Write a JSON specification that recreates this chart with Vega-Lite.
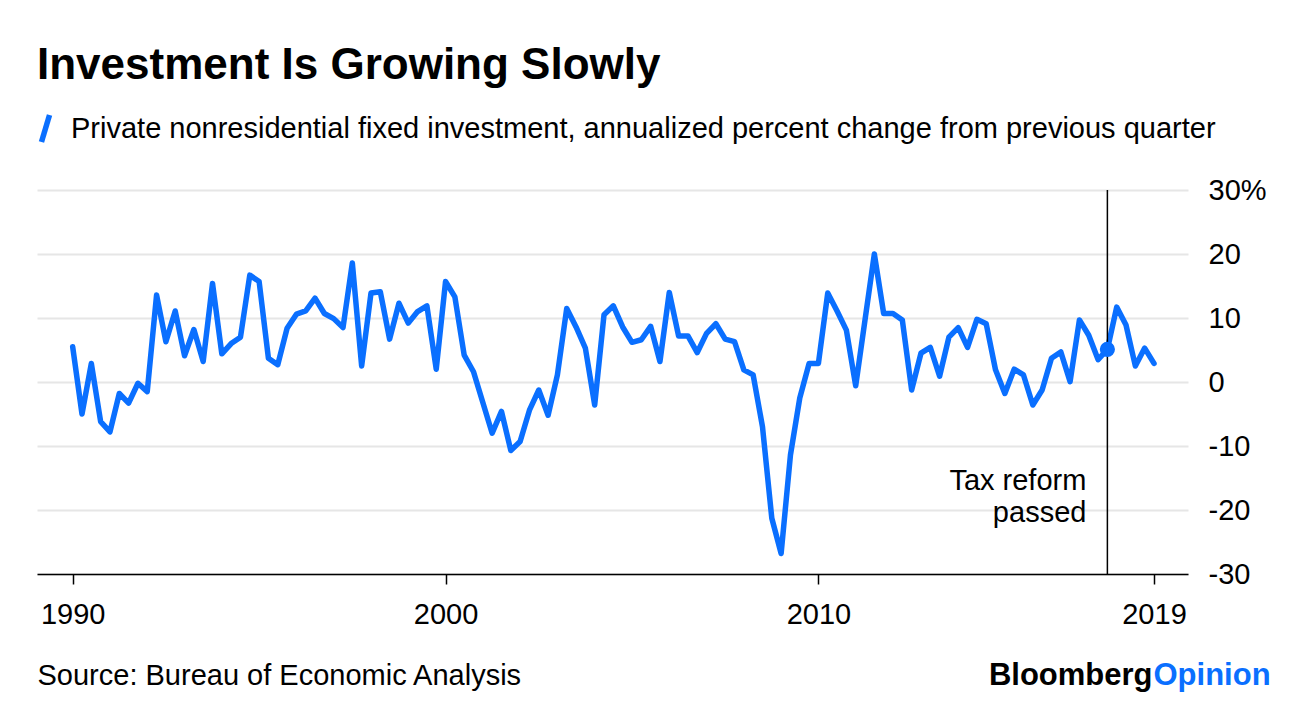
{
  "$schema": "https://vega.github.io/schema/vega-lite/v6.json",
  "width": 1151,
  "height": 384,
  "autosize": "none",
  "padding": {"left": 37, "top": 190, "right": 108, "bottom": 132},
  "background": "white",
  "config": {"view": {"stroke": null}, "font": "Liberation Sans"},
  "title": {
    "text": "Investment Is Growing Slowly",
    "anchor": "start",
    "frame": "group",
    "fontSize": 44,
    "font": "Liberation Sans",
    "fontWeight": "bold",
    "color": "#000000",
    "offset": 24
  },
  "datasets": {
    "main": [
      {"t": 1990.0, "v": 5.5}, {"t": 1990.25, "v": -5.0}, {"t": 1990.5, "v": 2.9}, {"t": 1990.75, "v": -6.2},
      {"t": 1991.0, "v": -7.8}, {"t": 1991.25, "v": -1.8}, {"t": 1991.5, "v": -3.3}, {"t": 1991.75, "v": -0.2},
      {"t": 1992.0, "v": -1.5}, {"t": 1992.25, "v": 13.6}, {"t": 1992.5, "v": 6.3}, {"t": 1992.75, "v": 11.1},
      {"t": 1993.0, "v": 4.1}, {"t": 1993.25, "v": 8.2}, {"t": 1993.5, "v": 3.2}, {"t": 1993.75, "v": 15.4},
      {"t": 1994.0, "v": 4.4}, {"t": 1994.25, "v": 6.0}, {"t": 1994.5, "v": 7.0}, {"t": 1994.75, "v": 16.7},
      {"t": 1995.0, "v": 15.7}, {"t": 1995.25, "v": 3.7}, {"t": 1995.5, "v": 2.7}, {"t": 1995.75, "v": 8.4},
      {"t": 1996.0, "v": 10.6}, {"t": 1996.25, "v": 11.1}, {"t": 1996.5, "v": 13.1}, {"t": 1996.75, "v": 10.7},
      {"t": 1997.0, "v": 9.9}, {"t": 1997.25, "v": 8.5}, {"t": 1997.5, "v": 18.6}, {"t": 1997.75, "v": 2.5},
      {"t": 1998.0, "v": 13.9}, {"t": 1998.25, "v": 14.1}, {"t": 1998.5, "v": 6.7}, {"t": 1998.75, "v": 12.3},
      {"t": 1999.0, "v": 9.2}, {"t": 1999.25, "v": 11.0}, {"t": 1999.5, "v": 11.9}, {"t": 1999.75, "v": 2.0},
      {"t": 2000.0, "v": 15.7}, {"t": 2000.25, "v": 13.3}, {"t": 2000.5, "v": 4.2}, {"t": 2000.75, "v": 1.6},
      {"t": 2001.0, "v": -3.2}, {"t": 2001.25, "v": -8.0}, {"t": 2001.5, "v": -4.6}, {"t": 2001.75, "v": -10.7},
      {"t": 2002.0, "v": -9.3}, {"t": 2002.25, "v": -4.4}, {"t": 2002.5, "v": -1.25}, {"t": 2002.75, "v": -5.2},
      {"t": 2003.0, "v": 1.1}, {"t": 2003.25, "v": 11.5}, {"t": 2003.5, "v": 8.6}, {"t": 2003.75, "v": 5.3},
      {"t": 2004.0, "v": -3.6}, {"t": 2004.25, "v": 10.5}, {"t": 2004.5, "v": 11.9}, {"t": 2004.75, "v": 8.6},
      {"t": 2005.0, "v": 6.2}, {"t": 2005.25, "v": 6.6}, {"t": 2005.5, "v": 8.7}, {"t": 2005.75, "v": 3.2},
      {"t": 2006.0, "v": 14.0}, {"t": 2006.25, "v": 7.2}, {"t": 2006.5, "v": 7.2}, {"t": 2006.75, "v": 4.6},
      {"t": 2007.0, "v": 7.6}, {"t": 2007.25, "v": 9.1}, {"t": 2007.5, "v": 6.7}, {"t": 2007.75, "v": 6.3},
      {"t": 2008.0, "v": 1.9}, {"t": 2008.25, "v": 1.1}, {"t": 2008.5, "v": -7.0}, {"t": 2008.75, "v": -21.3},
      {"t": 2009.0, "v": -26.8}, {"t": 2009.25, "v": -11.4}, {"t": 2009.5, "v": -2.5}, {"t": 2009.75, "v": 2.9},
      {"t": 2010.0, "v": 2.9}, {"t": 2010.25, "v": 13.9}, {"t": 2010.5, "v": 11.1}, {"t": 2010.75, "v": 8.1},
      {"t": 2011.0, "v": -0.6}, {"t": 2011.25, "v": 9.7}, {"t": 2011.5, "v": 20.0}, {"t": 2011.75, "v": 10.7},
      {"t": 2012.0, "v": 10.7}, {"t": 2012.25, "v": 9.7}, {"t": 2012.5, "v": -1.25}, {"t": 2012.75, "v": 4.5},
      {"t": 2013.0, "v": 5.4}, {"t": 2013.25, "v": 0.9}, {"t": 2013.5, "v": 7.0}, {"t": 2013.75, "v": 8.5},
      {"t": 2014.0, "v": 5.4}, {"t": 2014.25, "v": 9.8}, {"t": 2014.5, "v": 9.1}, {"t": 2014.75, "v": 1.9},
      {"t": 2015.0, "v": -1.8}, {"t": 2015.25, "v": 2.0}, {"t": 2015.5, "v": 1.1}, {"t": 2015.75, "v": -3.6},
      {"t": 2016.0, "v": -1.25}, {"t": 2016.25, "v": 3.7}, {"t": 2016.5, "v": 4.7}, {"t": 2016.75, "v": 0.05},
      {"t": 2017.0, "v": 9.7}, {"t": 2017.25, "v": 7.3}, {"t": 2017.5, "v": 3.5}, {"t": 2017.75, "v": 5.1},
      {"t": 2018.0, "v": 11.7}, {"t": 2018.25, "v": 8.9}, {"t": 2018.5, "v": 2.5}, {"t": 2018.75, "v": 5.3},
      {"t": 2019.0, "v": 2.9}
    ],
    "event": [{"t": 2017.75, "v": 5.1, "note": -16.9, "label": "Tax reform\npassed"}]
  },
  "layer": [
    {
      "data": {"name": "main"},
      "mark": {"type": "line", "strokeWidth": 5.5, "strokeJoin": "round", "strokeCap": "round"},
      "encoding": {
        "x": {
          "field": "t",
          "type": "quantitative",
          "scale": {"domain": [1989.043, 2019.912], "nice": false, "zero": false},
          "axis": {
            "values": [1990, 2000, 2010, 2019],
            "labelExpr": "'' + datum.value",
            "grid": false,
            "domain": true,
            "domainColor": "#000000",
            "domainWidth": 1.5,
            "ticks": true,
            "tickColor": "#000000",
            "tickWidth": 1.5,
            "tickSize": 10,
            "labelFontSize": 29,
            "labelColor": "#000000",
            "labelFont": "Liberation Sans",
            "labelPadding": 16,
            "labelFlush": false,
            "title": "Source: Bureau of Economic Analysis",
            "titleX": 0,
            "titleY": 110,
            "titleAlign": "left",
            "titleAnchor": "start",
            "titleBaseline": "alphabetic",
            "titleFontSize": 29,
            "titleFontWeight": "normal",
            "titleFont": "Liberation Sans",
            "titleColor": "#000000"
          }
        },
        "y": {
          "field": "v",
          "type": "quantitative",
          "scale": {"domain": [-30, 30], "nice": false},
          "axis": {
            "orient": "right",
            "values": [-30, -20, -10, 0, 10, 20, 30],
            "labelExpr": "datum.value == 30 ? '30%' : '' + datum.value",
            "grid": true,
            "gridColor": "#e6e6e6",
            "gridWidth": 2,
            "domain": false,
            "ticks": false,
            "labelFontSize": 29,
            "labelColor": "#000000",
            "labelFont": "Liberation Sans",
            "labelPadding": 20,
            "labelAlign": "left",
            "labelBaseline": "middle",
            "title": "Bloomberg",
            "titleAngle": 0,
            "titleX": -36,
            "titleY": 494,
            "titleAlign": "right",
            "titleBaseline": "alphabetic",
            "titleFontSize": 31,
            "titleFontWeight": "bold",
            "titleFont": "Liberation Sans",
            "titleColor": "#000000"
          }
        },
        "color": {
          "datum": "Private nonresidential fixed investment, annualized percent change from previous quarter",
          "type": "nominal",
          "scale": {"range": ["#0a6fff"]},
          "legend": {
            "orient": "none",
            "legendX": -8,
            "legendY": -78,
            "title": null,
            "padding": 0,
            "symbolType": "M0.3,-1L-0.3,1",
            "symbolSize": 720,
            "symbolStrokeWidth": 5.5,
            "symbolFillColor": "transparent",
            "labelFontSize": 29,
            "labelFont": "Liberation Sans",
            "labelColor": "#000000",
            "labelOffset": 9,
            "labelLimit": 1300
          }
        }
      }
    },
    {
      "data": {"name": "event"},
      "mark": {"type": "rule", "color": "#000000", "strokeWidth": 1.5},
      "encoding": {
        "x": {"field": "t", "type": "quantitative"}
      }
    },
    {
      "data": {"name": "event"},
      "mark": {"type": "point", "filled": true, "size": 230, "color": "#0a6fff", "opacity": 1, "shape": "circle"},
      "encoding": {
        "x": {"field": "t", "type": "quantitative"},
        "y": {"field": "v", "type": "quantitative", "axis": null}
      }
    },
    {
      "data": {"name": "event"},
      "mark": {"type": "text", "align": "right", "baseline": "alphabetic", "dx": -21, "fontSize": 29, "font": "Liberation Sans", "color": "#000000", "lineBreak": "\n", "lineHeight": 32},
      "encoding": {
        "x": {"field": "t", "type": "quantitative"},
        "y": {
          "field": "note",
          "type": "quantitative",
          "axis": {
            "orient": "left",
            "labels": false,
            "ticks": false,
            "domain": false,
            "grid": false,
            "title": "Opinion",
            "titleAngle": 0,
            "titleX": 1116,
            "titleY": 494,
            "titleAlign": "left",
            "titleBaseline": "alphabetic",
            "titleFontSize": 31,
            "titleFontWeight": "bold",
            "titleFont": "Liberation Sans",
            "titleColor": "#0a6fff"
          }
        },
        "text": {"field": "label", "type": "nominal"}
      }
    }
  ],
  "resolve": {"axis": {"y": "independent"}}
}
